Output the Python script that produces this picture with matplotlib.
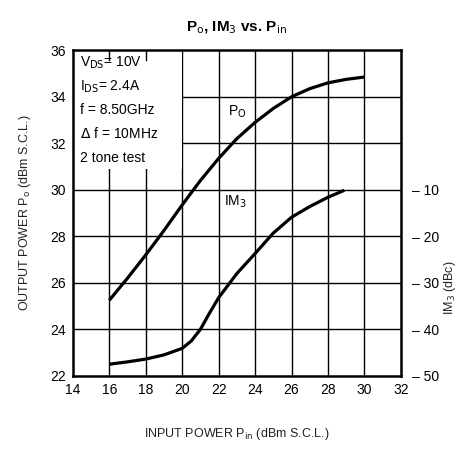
import matplotlib.pyplot as plt
from matplotlib.patches import Rectangle

plt.rcParams['font.family'] = ['Liberation Sans', 'DejaVu Sans']

# Po curve (dBm) vs Pin (dBm)
pin_po = [16, 17, 18, 19, 20, 21, 22, 23, 24, 25, 26, 27, 28, 29, 30]
po = [25.25, 26.2, 27.2, 28.25, 29.35, 30.4, 31.35, 32.2, 32.9, 33.5, 34.0, 34.35, 34.6, 34.75, 34.85]

# IM3 curve (dBc) vs Pin (dBm)
pin_im3 = [16, 17, 18, 19, 20, 20.5, 21, 21.5, 22, 23, 24, 25, 26, 27, 28, 28.9]
im3 = [-47.5, -47.0, -46.4, -45.5, -44.1, -42.5, -40.0, -36.5, -33.2, -28.0, -23.7, -19.3, -15.9, -13.6, -11.6, -10.1]

x_ticks = [14, 16, 18, 20, 22, 24, 26, 28, 30, 32]
y_ticks = [22, 24, 26, 28, 30, 32, 34, 36]
im3_ticks = [-50, -40, -30, -20, -10]

notes = [r"V$_{\rm DS}$= 10V", r"I$_{\rm DS}$= 2.4A", "f = 8.50GHz",
         r"$\Delta$ f = 10MHz", "2 tone test"]

fig = plt.figure(figsize=(4.64, 4.49), dpi=100)
ax = fig.add_axes([0.157, 0.163, 0.707, 0.725])

ax.set_xlim(14, 32)
ax.set_ylim(22, 36)
ax.set_xticks(x_ticks)
ax.set_yticks(y_ticks)
ax.tick_params(length=0, labelsize=10, pad=5)

# grid
for xv in x_ticks[1:-1]:
    ax.axvline(xv, color='black', lw=1.0, zorder=1)
for yv in y_ticks[1:-1]:
    ax.axhline(yv, color='black', lw=1.0, zorder=1)

# blank box for the conditions
ax.add_patch(Rectangle((14, 30.9), 6.0, 5.1, facecolor='white', edgecolor='none', zorder=2))
for xv in [16, 18]:
    ax.plot([xv, xv], [35.6, 36], color='black', lw=1.0, zorder=3)

for i, s in enumerate(notes):
    ax.text(0.022, 0.962 - i * 0.073, s, transform=ax.transAxes, fontsize=10,
            va='center', ha='left', zorder=4)

for sp in ax.spines.values():
    sp.set_linewidth(1.8)
    sp.set_zorder(5)

ax.plot(pin_po, po, color='black', lw=2.3, zorder=4, solid_capstyle='butt')
ax.text(22.5, 33.2, r"P$_{\rm O}$", fontsize=10, zorder=4)
ax.text(22.3, 29.3, r"IM$_3$", fontsize=10, zorder=4)

ax2 = ax.twinx()
ax2.set_ylim(-50, 20)
ax2.set_yticks(im3_ticks)
ax2.set_yticklabels(["\u2013 %d" % abs(v) for v in im3_ticks])
ax2.tick_params(length=0, labelsize=10, pad=8)
for sp in ax2.spines.values():
    sp.set_visible(False)
ax2.plot(pin_im3, im3, color='black', lw=2.3, zorder=4, solid_capstyle='butt')
ax2.set_ylabel(r"IM$_3$ (dBc)", fontsize=9, color='#222222')
ax2.yaxis.set_label_coords(1.125, 0.27)

ax.set_ylabel(r"OUTPUT POWER P$_{\rm o}$ (dBm S.C.L.)", fontsize=9, labelpad=12, color='#222222')
ax.set_xlabel(r"INPUT POWER P$_{\rm in}$ (dBm S.C.L.)", fontsize=9, labelpad=21, color='#222222')
ax.set_title(r"P$_{\rm o}$, IM$_3$ vs. P$_{\rm in}$", fontsize=11, fontweight='bold', pad=14)

fig.savefig('out.png', dpi=100)
